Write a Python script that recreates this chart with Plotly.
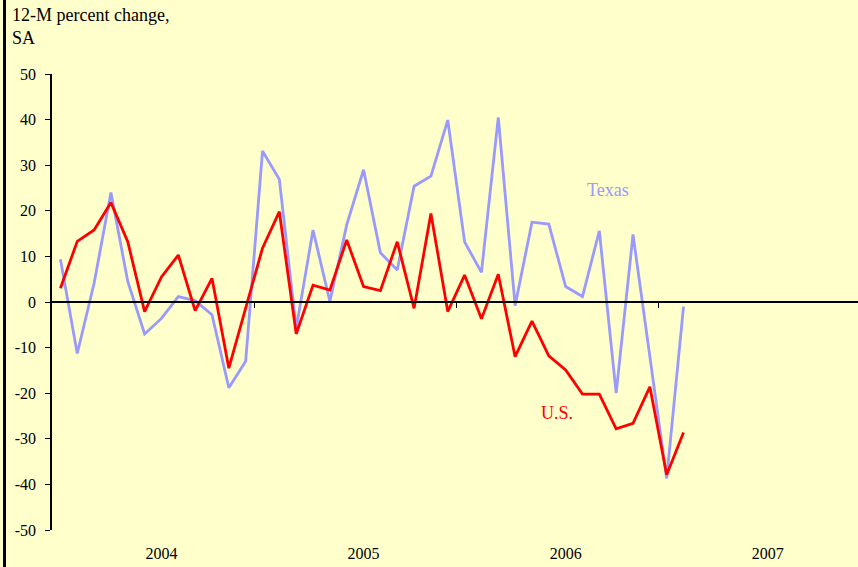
import plotly.graph_objects as go

# Monthly observations, Jan 2004 .. Feb 2007 (index 0..37)
texas = [9.4, -11.3, 4.1, 24.0, 4.5, -7.0, -3.6, 1.2, 0.3, -2.8, -18.8, -13.0,
         33.1, 26.9, -5.8, 15.8, 0.1, 16.9, 29.0, 10.8, 7.0, 25.4, 27.6, 39.9,
         13.2, 6.5, 40.5, -0.8, 17.5, 17.1, 3.4, 1.2, 15.6, -20.0, 14.8, -12.0,
         -38.7, -1.0]
us = [3.0, 13.3, 15.8, 21.8, 13.2, -2.1, 5.5, 10.3, -1.9, 5.2, -14.5, -1.5,
      11.8, 19.8, -7.0, 3.7, 2.6, 13.6, 3.4, 2.5, 13.2, -1.4, 19.4, -2.1,
      5.9, -3.7, 6.1, -12.0, -4.2, -11.8, -14.9, -20.2, -20.2, -27.8, -26.6, -18.6,
      -37.9, -28.6]
months = list(range(len(us)))
year_labels = ["2004", "2005", "2006", "2007"]
year_label_pos = [6, 18, 30, 42]
year_bounds = [11.5, 23.5, 35.5]
y_ticks = [50, 40, 30, 20, 10, 0, -10, -20, -30, -40, -50]
y_tick_text = ["50", "40", "30", "20", "10", "0", "-10", "-20", "-30", "-40", "-50"]

FONT = "Liberation Serif, Times New Roman, serif"
BG = "#FFFFCC"

fig = go.Figure()
fig.add_trace(go.Scatter(x=months, y=texas, mode="lines",
                         line=dict(color="#9999FF", width=2.8), name="Texas",
                         hoverinfo="skip"))
fig.add_trace(go.Scatter(x=months, y=us, mode="lines",
                         line=dict(color="#FF0000", width=2.8), name="U.S.",
                         hoverinfo="skip"))
# invisible trace on xaxis2 so the zero-line axis is drawn
fig.add_trace(go.Scatter(x=[None], y=[None], xaxis="x2", showlegend=False))

W, H = 858, 567
ml, mr, mt, mb = 52, 0, 74, 37
pw, ph = W - ml - mr, H - mt - mb

fig.update_layout(
    width=W, height=H,
    margin=dict(l=ml, r=mr, t=mt, b=mb),
    paper_bgcolor=BG, plot_bgcolor=BG,
    showlegend=False,
    font=dict(family=FONT, size=16, color="#000000"),
    xaxis=dict(range=[-0.5, 47.36], showgrid=False, zeroline=False,
               showline=False, tickmode="array", tickvals=year_label_pos,
               ticktext=year_labels, ticks="", ticklabelstandoff=12,
               tickfont=dict(family=FONT, size=16)),
    xaxis2=dict(range=[-0.5, 47.36], overlaying="x", anchor="free",
                position=0.5, side="bottom", showgrid=False, zeroline=False,
                showline=True, linecolor="#000000", linewidth=1.5,
                tickmode="array", tickvals=year_bounds, ticks="outside",
                ticklen=5, tickwidth=1.2, tickcolor="#000000",
                showticklabels=False),
    yaxis=dict(range=[-50, 50], showgrid=False, zeroline=False,
               showline=True, linecolor="#000000", linewidth=1.5,
               tickmode="array", tickvals=y_ticks, ticktext=y_tick_text,
               ticks="outside",
               ticklen=5, tickwidth=1.2, tickcolor="#000000",
               ticklabelstandoff=6, tickfont=dict(family=FONT, size=16)),
)

def px_to_paper_x(px):
    return (px - ml) / pw

def px_to_paper_y(py):
    return 1 - (py - mt) / ph

# left frame border
fig.add_shape(type="line", xref="paper", yref="paper",
              x0=px_to_paper_x(4.5), x1=px_to_paper_x(4.5),
              y0=px_to_paper_y(H + 2), y1=px_to_paper_y(-2),
              line=dict(color="#000000", width=3))

fig.add_annotation(text="12-M percent change,", xref="paper", yref="paper",
                   x=px_to_paper_x(10), y=px_to_paper_y(15),
                   xanchor="left", yanchor="middle", showarrow=False,
                   font=dict(family=FONT, size=18, color="#000000"))
fig.add_annotation(text="SA", xref="paper", yref="paper",
                   x=px_to_paper_x(10), y=px_to_paper_y(38),
                   xanchor="left", yanchor="middle", showarrow=False,
                   font=dict(family=FONT, size=18, color="#000000"))

fig.add_annotation(text="Texas", x=32.5, y=24.6, showarrow=False,
                   font=dict(family=FONT, size=18, color="#9999FF"))
fig.add_annotation(text="U.S.", x=29.5, y=-24.3, showarrow=False,
                   font=dict(family=FONT, size=18, color="#FF0000"))

fig.write_html("out.html",
               config={"displayModeBar": False},
               post_script="document.body.style.margin='0';"
                           "document.body.style.overflow='hidden';")
